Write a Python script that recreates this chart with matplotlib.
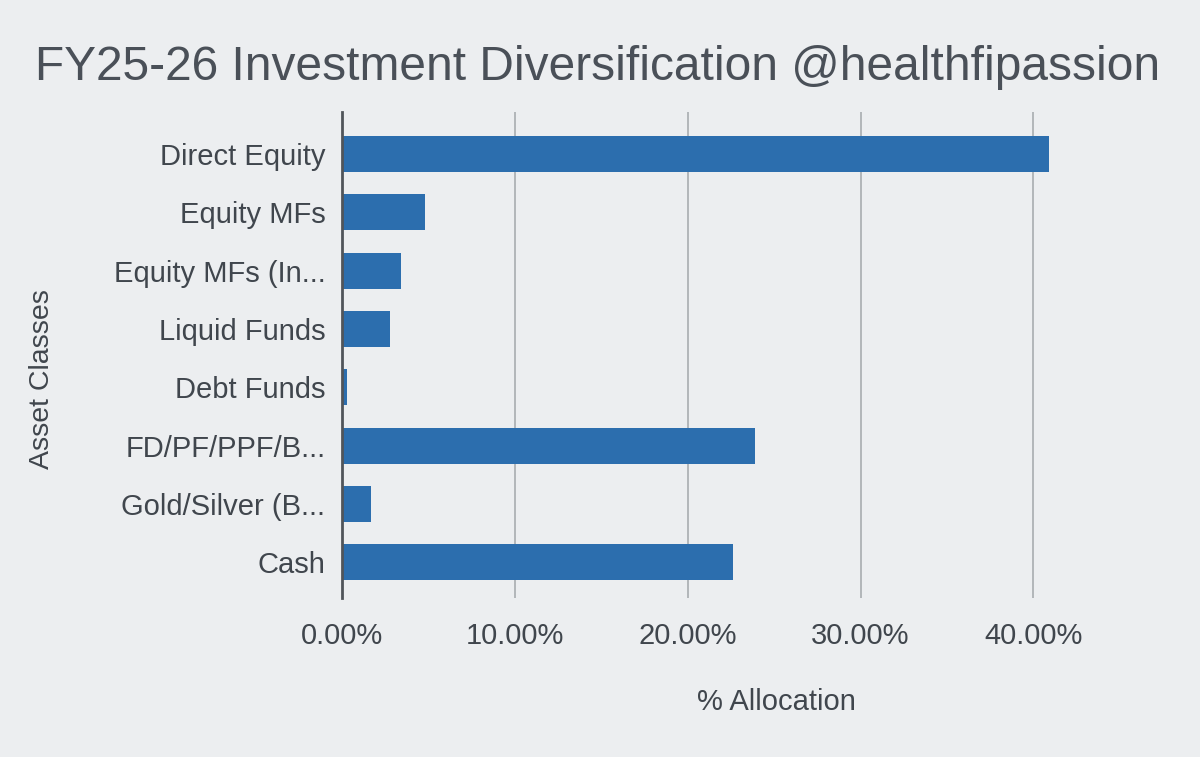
import matplotlib.pyplot as plt
from matplotlib.ticker import PercentFormatter

categories = [
    "Direct Equity",
    "Equity MFs",
    "Equity MFs (In...",
    "Liquid Funds",
    "Debt Funds",
    "FD/PF/PPF/B...",
    "Gold/Silver (B...",
    "Cash",
]
allocation = [0.409, 0.048, 0.034, 0.028, 0.003, 0.239, 0.017, 0.226]
xticks = [0.0, 0.1, 0.2, 0.3, 0.4]

plt.rcParams["font.family"] = ["Liberation Sans", "DejaVu Sans"]

bg = "#eceef0"
bar_color = "#2c6eae"
text_color = "#40464d"

W, H = 1200, 757
fig = plt.figure(figsize=(W / 100, H / 100), dpi=100, facecolor=bg)

# plot area in pixels: x 342..1068, y 112..598
ax = fig.add_axes([342 / W, 1 - 598 / H, 726 / W, 486 / H])
ax.set_facecolor(bg)

ypos = list(range(len(categories)))
ax.barh(ypos, allocation, height=0.62, color=bar_color, zorder=3)

ax.set_xlim(0, 0.42)
ax.set_ylim(7.61, -0.72)

ax.set_xticks(xticks)
ax.xaxis.set_major_formatter(PercentFormatter(1.0, decimals=2))
ax.set_yticks(ypos)
ax.set_yticklabels(categories)

ax.tick_params(axis="y", length=0, pad=12, labelsize=21, labelcolor=text_color)
ax.tick_params(axis="x", length=0, pad=17, labelsize=21, labelcolor=text_color)

ax.grid(axis="x", color="#a8acb0", linewidth=1.2, zorder=0)
for s in ["top", "right", "bottom"]:
    ax.spines[s].set_visible(False)
ax.spines["left"].set_color("#50555a")
ax.spines["left"].set_linewidth(2)
ax.spines["left"].set_zorder(4)

fig.text(35 / W, 1 - 67 / H, "FY25-26 Investment Diversification @healthfipassion",
         fontsize=34.5, color="#4a5058", ha="left", va="center")
fig.text(776 / W, 1 - 702 / H, "% Allocation", fontsize=21,
         color=text_color, ha="center", va="center")
fig.text(42 / W, 1 - 379 / H, "Asset Classes", fontsize=20.5, rotation=90,
         color=text_color, ha="center", va="center")

fig.savefig("out.png", dpi=100, facecolor=bg)
